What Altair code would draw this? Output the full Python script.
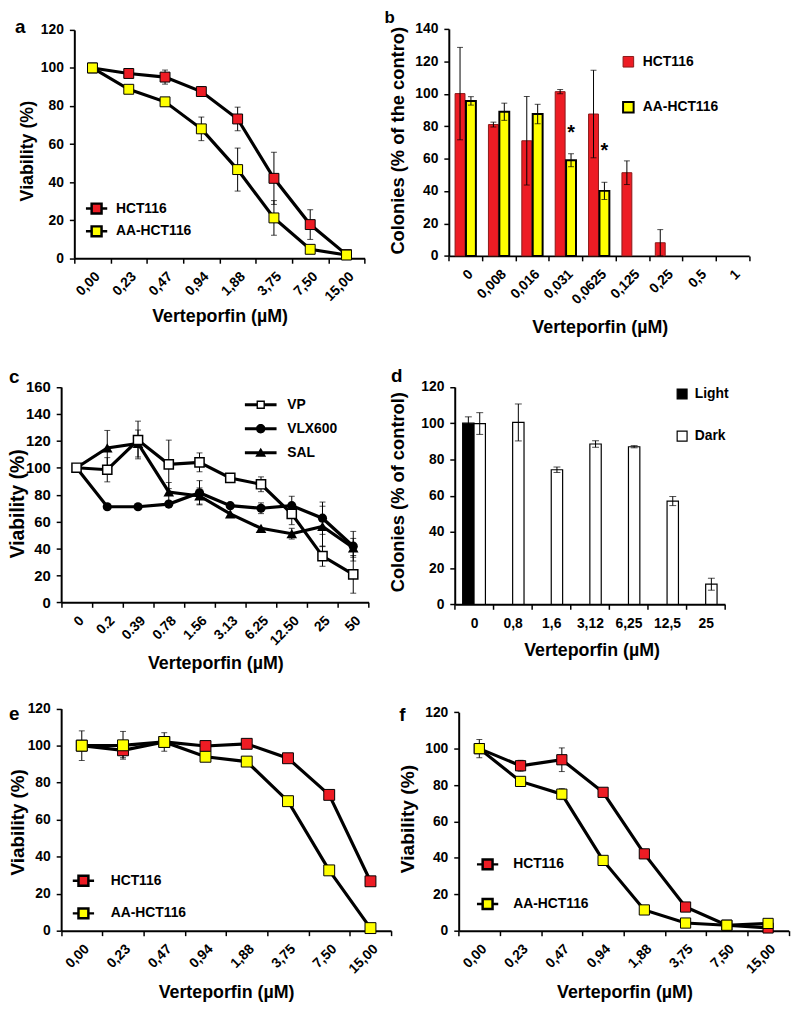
import math
import altair as alt
import pandas as pd

M = 8                      # page margin
W, H = 791, 1002           # whole drawing (page minus margin)
FONT = "Liberation Sans"
RED = "#ed1c24"
YEL = "#ffff00"
DARKRED = "#8a1a1a"

SER_AE = ["HCT116", "AA-HCT116"]
SER_C = ["VP", "VLX600", "SAL"]
SER_D = ["Light", "Dark"]

# ---------------- panel a ----------------
a_conc = ["0,00", "0,23", "0,47", "0,94", "1,88", "3,75", "7,50", "15,00"]
a_hct = [100, 97.1, 95.2, 87.6, 73.2, 42.0, 17.7, 1.9]
a_hct_err = [0, 1.5, 3.7, 2.5, 6.2, 13.7, 7.8, 0]
a_aa = [100, 88.8, 82.2, 68.0, 46.6, 21.2, 4.7, 1.7]
a_aa_err = [0, 0, 0, 6.2, 11.3, 9.1, 0, 0]

# ---------------- panel b ----------------
b_conc = ["0", "0,008", "0,016", "0,031", "0,0625", "0,125", "0,25", "0,5", "1"]
b_hct = [100.1, 81.0, 71.0, 101.3, 87.5, 51.3, 8.1, 0, 0]
b_hct_err = [28.5, 1.5, 27.3, 1.3, 27.0, 7.3, 8.1, 0, 0]
b_aa = [95.6, 88.9, 87.5, 59.0, 40.1, None, None, None, None]
b_aa_err = [2.6, 5.3, 6.0, 4.0, 5.3, None, None, None, None]
b_star_conc = ["0,031", "0,0625"]
b_star_val = [78.3, 67.2]

# ---------------- panel c ----------------
c_conc = ["0", "0.2", "0.39", "0.78", "1.56", "3.13", "6.25", "12.50", "25", "50"]
c_vp = [100, 98.5, 120.6, 102.5, 104.0, 92.4, 87.7, 65.7, 34.3, 20.8]
c_vp_err = [0, 9, 14, 18, 7, 0, 5.5, 8, 7.5, 14]
c_vlx = [100, 71, 71, 73, 81.4, 71.8, 69.9, 71.8, 62.5, 41.7]
c_vlx_err = [0, 0, 0, 0, 9, 0, 4, 7, 12, 11]
c_sal = [100, 114.7, 118, 82, 79, 65.7, 55, 51, 56.4, 40.5]
c_sal_err = [0, 13, 10, 7, 6, 0, 0, 4, 15, 7]

# ---------------- panel d ----------------
d_conc = ["0", "0,8", "1,6", "3,12", "6,25", "12,5", "25"]
d_light = [100, None, None, None, None, None, None]
d_light_err = [3.5, None, None, None, None, None, None]
d_dark = [99.8, 100.4, 74.3, 88.5, 87.0, 57.0, 11.1]
d_dark_err = [6.0, 10.2, 1.5, 1.8, 0.6, 2.5, 3.3]

# ---------------- panel e ----------------
e_hct = [100, 97.5, 102, 99.8, 101, 93.2, 73.4, 26.7]
e_hct_err = [8, 4, 5, 0, 0, 0, 0, 0]
e_aa = [100, 100.2, 102, 94, 91.4, 70, 32.6, 1.4]
e_aa_err = [0, 7.5, 0, 0, 0, 0, 0, 0]

# ---------------- panel f ----------------
f_hct = [100, 90.6, 93.9, 76, 42.2, 13, 3, 1.5]
f_hct_err = [5, 3, 6.5, 0, 0, 0, 0, 0]
f_aa = [100, 82, 75, 38.6, 11.4, 4.2, 3, 4]
f_aa_err = [0, 0, 3, 0, 0, 0, 0, 0]

XT = "Verteporfin (µM)"

# legend symbol paths (line + marker)
P_SQ = "M-2.15,0H-1M1,0H2.15M-1,-1H1V1H-1Z"
# filled outlines for panel c (line drawn as thin bar, open square as a frame)
P_VP = ("M-3.2,-0.3H-0.84V0.3H-3.2Z M0.84,-0.3H3.2V0.3H0.84Z "
        "M-0.84,-0.84H0.84V0.84H-0.84Z M-0.56,-0.56V0.56H0.56V-0.56Z")
P_VLX = "M-3.2,-0.3H3.2V0.3H-3.2Z M-0.95,0A0.95,0.95,0,1,1,0.95,0A0.95,0.95,0,1,1,-0.95,0Z"
P_SAL = "M-3.2,-0.3H3.2V0.3H-3.2Z M0,-1L1.1,0.8H-1.1Z"


def make_frame(cats, named):
    rows = []
    for name, vals, errs in named:
        for i, (c, v, e) in enumerate(zip(cats, vals, errs)):
            if v is None:
                continue
            rows.append({"conc": c, "idx": i, "series": name, "v": v,
                         "lo": v - e, "hi": v + e, "err": e})
    return pd.DataFrame(rows)


def band(cats, x0, x1):
    return alt.Scale(type="band", domain=cats, range=[x0 - M, x1 - M],
                     paddingInner=0, paddingOuter=0)


def lin(ymax, y0, y1):
    return alt.Scale(domain=[0, ymax], range=[y0 - M, y1 - M], nice=False, zero=False)


AX = dict(labelFont=FONT, labelFontWeight="bold", labelColor="black",
          titleFont=FONT, titleFontWeight="bold", titleColor="black",
          tickColor="black", tickSize=5, tickWidth=1.5,
          domainColor="black", domainWidth=2, grid=False, labelOverlap=False)


def x_axis(y0, tcx, tcy, angle=-45, lpad=6, lsize=14, tsize=18):
    kw = dict(AX)
    kw.update(orient="bottom", offset=(y0 - M) - H, title=XT,
              titleX=tcx - M, titleY=tcy - y0, titleAngle=0,
              titleAlign="center", titleBaseline="middle", titleFontSize=tsize,
              labelAngle=angle, labelAlign="right" if angle else "center",
              labelBaseline="top", labelPadding=lpad, labelFontSize=lsize,
              tickBand="extent")
    return alt.Axis(**kw)


def y_axis(x0, ymax, title, tcx, tcy, tsize, lsize=14, lpad=6):
    kw = dict(AX)
    kw.update(orient="left", offset=-(x0 - M), values=list(range(0, ymax + 1, 20)),
              title=title, titleX=tcx - x0, titleY=tcy - M, titleAngle=270,
              titleAlign="center", titleBaseline="middle", titleFontSize=tsize,
              labelFontSize=lsize, labelPadding=lpad)
    return alt.Axis(**kw)


def legend(sx, sy, tx, spacing, S, sw, stype=None, fs=14):
    sz = max(math.ceil(math.sqrt(S) + sw), fs)
    kw = dict(orient="none", legendX=sx - M - sz / 2, legendY=sy - M - sz / 2 - sw + 2,
              title=None, padding=0, rowPadding=spacing - sz - 2 * sw,
              labelOffset=tx - sx - sz / 2, symbolSize=S, symbolStrokeWidth=sw,
              symbolStrokeColor="black", symbolOffset=0, labelFont=FONT,
              labelFontSize=fs, labelFontWeight="bold", labelColor="black",
              direction="vertical")
    if stype:
        kw["symbolType"] = stype
    return alt.Legend(**kw)


class Panel:
    """scales + axes shared by every layer of one panel"""

    def __init__(self, cats, xr, yr, ymax, xax, yax):
        self.cats = cats
        self.ymax = ymax
        self.xs = band(cats, *xr)
        self.ys = lin(ymax, *yr)
        self.xax = xax
        self.yax = yax

    def X(self, field="conc"):
        return alt.X(f"{field}:N", scale=self.xs, axis=self.xax)

    def Y(self, field="v"):
        return alt.Y(f"{field}:Q", scale=self.ys, axis=self.yax)

    def letter(self, letter, dx, dy, size=19):
        return alt.Chart(pd.DataFrame({"t": [letter]})).mark_text(
            align="left", baseline="alphabetic", font=FONT, fontWeight="bold",
            fontSize=size, color="black", dx=dx, dy=dy).encode(
            x=alt.XDatum(self.cats[0], type="nominal", scale=self.xs, axis=self.xax),
            y=alt.YDatum(self.ymax, type="quantitative", scale=self.ys, axis=self.yax),
            text="t:N")

    def errbars(self, df, xoff=None, cap=6):
        e = df[df["err"] > 0]
        enc = dict(x=self.X())
        if xoff is not None:
            enc["xOffset"] = xoff
        base = alt.Chart(e)
        rule = base.mark_rule(color="black", strokeWidth=1).encode(
            y=self.Y("lo"), y2="hi:Q", **enc)
        top = base.mark_tick(orient="horizontal", size=cap, thickness=1, color="black").encode(
            y=self.Y("hi"), **enc)
        bot = base.mark_tick(orient="horizontal", size=cap, thickness=1, color="black").encode(
            y=self.Y("lo"), **enc)
        return [rule, top, bot]


def hct_panel(cats, hct, hct_err, aa, aa_err, xr, yr, xtc, ytc, ytsize,
              leg, letter, ldx, ldy, msize):
    df = make_frame(cats, [("HCT116", hct, hct_err), ("AA-HCT116", aa, aa_err)])
    p = Panel(cats, xr, yr, 120, x_axis(yr[0], *xtc),
              y_axis(xr[0], 120, "Viability (%)", ytc[0], ytc[1], ytsize))
    line = alt.Chart(df).mark_line(color="black", strokeWidth=3.2).encode(
        x=p.X(), y=p.Y(), detail="series:N", order="idx:Q")
    pts = alt.Chart(df).mark_point(shape="square", filled=True, size=msize,
                                   stroke="black", strokeWidth=1, opacity=1).encode(
        x=p.X(), y=p.Y(),
        fill=alt.Fill("series:N", scale=alt.Scale(domain=SER_AE, range=[RED, YEL]),
                      legend=leg))
    return alt.layer(line, *p.errbars(df), pts, p.letter(letter, ldx, ldy))


# ---------------- build panels ----------------
panel_a = hct_panel(a_conc, a_hct, a_hct_err, a_aa, a_aa_err,
                    (75, 368.3), (255.7, 25), (221.7, 315), (27.5, 147), 18,
                    legend(97.5, 206, 117, 22, 100, 2.5, P_SQ), "a", -78.3, 3.3, 100)

panel_e = hct_panel(a_conc, e_hct, e_hct_err, e_aa, e_aa_err,
                    (61.7, 395), (935, 710.7), (228.3, 997), (18, 825), 19,
                    legend(84.2, 885, 111.7, 32, 100, 2.5, P_SQ), "e", -73.5, 11, 121)

panel_f = hct_panel(a_conc, f_hct, f_hct_err, f_aa, f_aa_err,
                    (463.3, 796.7), (935, 714.3), (630.7, 997), (411.7, 821.7), 19.4,
                    legend(492.5, 868.5, 518.3, 39, 100, 2.5, P_SQ), "f", -80.9, 8.7, 106)

# panel b : grouped bars
b_df = make_frame(b_conc, [("HCT116", b_hct, b_hct_err), ("AA-HCT116", b_aa, b_aa_err)])
pb = Panel(b_conc, (453.3, 756.7), (253.3, 24), 140, x_axis(253.3, 605.8, 325.8),
           y_axis(453.3, 140, "Colonies (% of the contro)", 401.7, 136.5, 18.5))
xo_b = alt.XOffset("series:N", scale=alt.Scale(domain=SER_AE, paddingInner=0.09, paddingOuter=0.577))
bars_b = alt.Chart(b_df).transform_filter(alt.datum.v > 0).mark_bar().encode(
    x=pb.X(), y=pb.Y(), xOffset=xo_b,
    fill=alt.Fill("series:N", scale=alt.Scale(domain=SER_AE, range=[RED, YEL]),
                  legend=legend(634.7, 56.7, 649.3, 45, 114, 1.5, "square")),
    stroke=alt.Stroke("series:N", scale=alt.Scale(domain=SER_AE, range=[DARKRED, "black"]), legend=None),
    strokeWidth=alt.StrokeWidth("series:N", scale=alt.Scale(domain=SER_AE, range=[1, 2]), legend=None),
)
stars_b = alt.Chart(pd.DataFrame({"conc": b_star_conc, "v": b_star_val,
                                  "series": ["AA-HCT116"] * len(b_star_conc)})).mark_text(
    text="*", font=FONT, fontWeight="bold", fontSize=20, color="black",
    baseline="alphabetic", align="center", dy=10).encode(
    x=pb.X(), xOffset=xo_b, y=pb.Y())
panel_b = alt.layer(bars_b, *pb.errbars(b_df, xo_b, cap=6), stars_b,
                    pb.letter("b", -81.9, -5.7, 17))

# panel d : bars light / dark
d_df = make_frame(d_conc, [("Light", d_light, d_light_err), ("Dark", d_dark, d_dark_err)])
pdd = Panel(d_conc, (459.3, 732.3), (605.3, 385.7), 120, x_axis(605.3, 597.5, 651.7, angle=0, lpad=7),
            y_axis(459.3, 120, "Colonies (% of control)", 401.7, 491.5, 18.5))
xo_d = alt.XOffset("series:N", scale=alt.Scale(domain=SER_D, paddingInner=0, paddingOuter=0.696))
bars_d = alt.Chart(d_df).mark_bar(stroke="black", strokeWidth=1.2).encode(
    x=pdd.X(), y=pdd.Y(), xOffset=xo_d,
    fill=alt.Fill("series:N", scale=alt.Scale(domain=SER_D, range=["black", "white"]),
                  legend=legend(689, 392, 701.7, 43, 100, 1.2, "square")),
)
panel_d = alt.layer(bars_d, *pdd.errbars(d_df, xo_d, cap=7), pdd.letter("d", -83.8, -4.7))

# panel c : three drugs
c_df = make_frame(c_conc, [("VP", c_vp, c_vp_err), ("VLX600", c_vlx, c_vlx_err), ("SAL", c_sal, c_sal_err)])
pc = Panel(c_conc, (61.7, 372.3), (603.3, 385.7), 160, x_axis(603.3, 217.5, 665.5),
           y_axis(61.7, 160, "Viability (%)", 18, 503.3, 19.5, lsize=15))
line_c = alt.Chart(c_df).mark_line(color="black", strokeWidth=3.2).encode(
    x=pc.X(), y=pc.Y(), detail="series:N", order="idx:Q")
tri_c = alt.Chart(c_df).transform_filter(alt.datum.series == "SAL").mark_point(
    shape="triangle-up", filled=True, size=115, color="black", opacity=1).encode(x=pc.X(), y=pc.Y())
cir_c = alt.Chart(c_df).transform_filter(alt.datum.series == "VLX600").mark_point(
    shape="circle", filled=True, size=86, color="black", opacity=1).encode(x=pc.X(), y=pc.Y())
sq_c = alt.Chart(c_df).transform_filter(alt.datum.series == "VP").mark_point(
    shape="square", filled=True, size=86, fill="white", stroke="black", strokeWidth=1.5,
    opacity=1).encode(x=pc.X(), y=pc.Y())
legend_c = alt.Chart(c_df).transform_filter("false").mark_point(
    filled=True, opacity=1, color="black").encode(
    shape=alt.Shape("series:N", scale=alt.Scale(domain=SER_C, range=[P_VP, P_VLX, P_SAL]),
                    legend=legend(263.3, 401.7, 290, 24.2, 100, 0)),
)
panel_c = alt.layer(line_c, *pc.errbars(c_df), tri_c, cir_c, sq_c, legend_c,
                    pc.letter("c", -68.2, -4))

chart = alt.layer(panel_a, panel_b, panel_c, panel_d, panel_e, panel_f).resolve_scale(
    x="independent", y="independent", xOffset="independent", fill="independent",
    stroke="independent", strokeWidth="independent", shape="independent"
).resolve_axis(x="independent", y="independent").resolve_legend(
    fill="independent", shape="independent", stroke="independent", strokeWidth="independent"
).properties(width=W, height=H, padding=0, autosize="none", background="white"
).configure_view(strokeWidth=0)

chart.save("out.html", embed_options={"renderer": "svg", "actions": False})
